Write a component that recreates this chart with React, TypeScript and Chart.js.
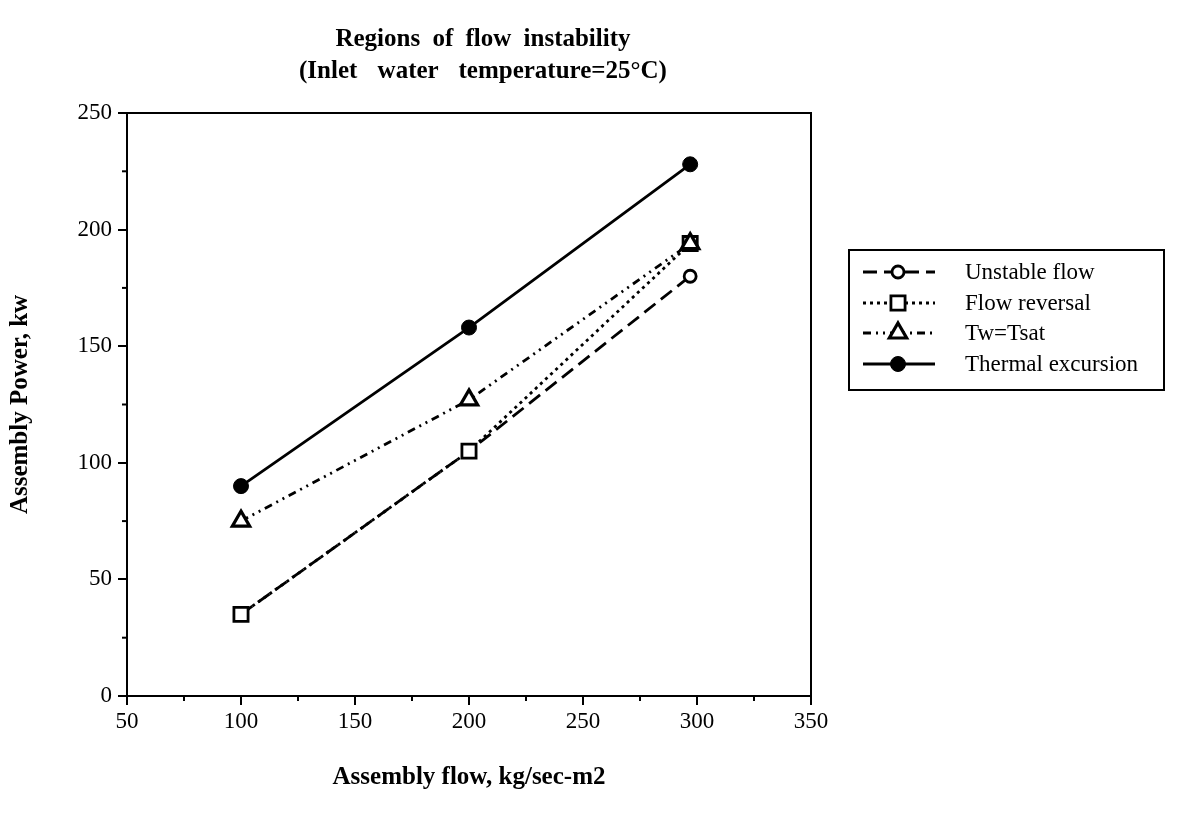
import React, { useEffect, useRef } from 'react';
import { Chart, registerables } from 'chart.js';

Chart.register(...registerables);

// ---- data ----
const flowX = [100, 200, 297];
const unstableFlow = [35, 105, 180];
const flowReversal = [35, 105, 194];
const twTsat = [75, 127, 194];
const thermalExcursion = [90, 158, 228];

const xTicks = [50, 100, 150, 200, 250, 300, 350];
const yTicks = [0, 50, 100, 150, 200, 250];

const seriesNames = ['Unstable flow', 'Flow reversal', 'Tw=Tsat', 'Thermal excursion'];
const titleLines = ['Regions of flow instability', '(Inlet water temperature=25°C)'];
const xTitle = 'Assembly flow, kg/sec-m2';
const yTitle = 'Assembly Power, kw';

const SERIF = '"Liberation Serif", "DejaVu Serif", serif';

function toPoints(ys: number[]) {
  return flowX.map((x, i) => ({ x, y: ys[i] }));
}

function drawMarker(ctx: CanvasRenderingContext2D, style: string, x: number, y: number, r: number, fill: string) {
  ctx.beginPath();
  if (style === 'rect') {
    const s = r * Math.SQRT1_2;
    ctx.rect(x - s, y - s, 2 * s, 2 * s);
  } else if (style === 'triangle') {
    ctx.moveTo(x, y - r);
    ctx.lineTo(x + r * Math.sin(Math.PI / 3), y + r * 0.5);
    ctx.lineTo(x - r * Math.sin(Math.PI / 3), y + r * 0.5);
    ctx.closePath();
  } else {
    ctx.arc(x, y, r, 0, Math.PI * 2);
  }
  ctx.fillStyle = fill;
  ctx.fill();
  ctx.stroke();
}

const framePlugin = {
  id: 'frameAndMinor',
  afterDraw(chart: any) {
    const { ctx, chartArea: a, scales } = chart;
    ctx.save();
    ctx.strokeStyle = '#000';
    ctx.lineWidth = 2;
    ctx.setLineDash([]);
    ctx.strokeRect(a.left, a.top, a.right - a.left, a.bottom - a.top);
    // minor ticks
    for (let i = 0; i < xTicks.length - 1; i++) {
      const px = scales.x.getPixelForValue((xTicks[i] + xTicks[i + 1]) / 2);
      ctx.beginPath();
      ctx.moveTo(px, a.bottom);
      ctx.lineTo(px, a.bottom + 5);
      ctx.stroke();
    }
    for (let i = 0; i < yTicks.length - 1; i++) {
      const py = scales.y.getPixelForValue((yTicks[i] + yTicks[i + 1]) / 2);
      ctx.beginPath();
      ctx.moveTo(a.left, py);
      ctx.lineTo(a.left - 5, py);
      ctx.stroke();
    }
    ctx.restore();
  },
};

const legendPlugin = {
  id: 'boxLegend',
  afterDraw(chart: any) {
    const { ctx } = chart;
    const box = { x: 849, y: 250, w: 315, h: 140 };
    ctx.save();
    ctx.strokeStyle = '#000';
    ctx.lineWidth = 2;
    ctx.setLineDash([]);
    ctx.strokeRect(box.x, box.y, box.w, box.h);
    ctx.font = '23px ' + SERIF;
    ctx.textBaseline = 'middle';
    ctx.textAlign = 'left';
    const rowY = [272, 303, 333, 364];
    chart.data.datasets.forEach((ds: any, i: number) => {
      const y = rowY[i];
      ctx.strokeStyle = ds.borderColor;
      ctx.lineWidth = ds.borderWidth;
      ctx.setLineDash(ds.borderDash || []);
      ctx.beginPath();
      ctx.moveTo(863, y);
      ctx.lineTo(935, y);
      ctx.stroke();
      ctx.setLineDash([]);
      ctx.lineWidth = ds.pointBorderWidth;
      drawMarker(ctx, ds.pointStyle, 898, y, ds.pointRadius, ds.pointBackgroundColor);
      ctx.fillStyle = '#000';
      ctx.fillText(ds.label, 965, y + 1);
    });
    ctx.restore();
  },
};

export default function App() {
  const canvasRef = useRef<HTMLCanvasElement | null>(null);

  useEffect(() => {
    document.body.style.margin = '0';
    const canvas = canvasRef.current;
    if (!canvas) return;
    const chart = new Chart(canvas, {
      type: 'line',
      data: {
        datasets: [
          {
            label: seriesNames[0],
            data: toPoints(unstableFlow),
            borderColor: '#000',
            borderWidth: 2.8,
            borderDash: [14, 7],
            pointStyle: 'circle',
            pointRadius: 6,
            pointBorderWidth: 2.8,
            pointBorderColor: '#000',
            pointBackgroundColor: '#fff',
            order: 4,
          },
          {
            label: seriesNames[1],
            data: toPoints(flowReversal),
            borderColor: '#000',
            borderWidth: 2.8,
            borderDash: [3, 4],
            pointStyle: 'rect',
            pointRadius: 10,
            pointBorderWidth: 2.8,
            pointBorderColor: '#000',
            pointBackgroundColor: '#fff',
            order: 3,
          },
          {
            label: seriesNames[2],
            data: toPoints(twTsat),
            borderColor: '#000',
            borderWidth: 2.8,
            borderDash: [8, 5, 2, 5, 2, 5],
            pointStyle: 'triangle',
            pointRadius: 10,
            pointBorderWidth: 3.2,
            pointBorderColor: '#000',
            pointBackgroundColor: '#fff',
            order: 2,
          },
          {
            label: seriesNames[3],
            data: toPoints(thermalExcursion),
            borderColor: '#000',
            borderWidth: 2.8,
            borderDash: [],
            pointStyle: 'circle',
            pointRadius: 7.5,
            pointBorderWidth: 1,
            pointBorderColor: '#000',
            pointBackgroundColor: '#000',
            order: 1,
          },
        ],
      },
      options: {
        responsive: false,
        animation: false,
        events: [],
        layout: { padding: { top: 113, right: 368, bottom: 0, left: 0 } },
        plugins: {
          legend: { display: false },
          title: { display: false },
          tooltip: { enabled: false },
        },
        elements: { line: { tension: 0 } },
        scales: {
          x: {
            type: 'linear',
            min: 50,
            max: 350,
            afterFit: (s: any) => { s.height = 122; },
            ticks: {
              stepSize: 50,
              color: '#000',
              padding: 3,
              font: { family: SERIF, size: 23 },
            },
            grid: { drawOnChartArea: false, drawTicks: true, tickLength: 9, color: '#000', lineWidth: 2 },
            border: { display: true, color: '#000', width: 2 },
            title: {
              display: true,
              text: xTitle,
              color: '#000',
              font: { family: SERIF, size: 25, weight: 'bold' },
              padding: { top: 0, bottom: 25 },
            },
          },
          y: {
            type: 'linear',
            min: 0,
            max: 250,
            afterFit: (s: any) => { s.width = 127; },
            ticks: {
              stepSize: 50,
              color: '#000',
              padding: 6,
              font: { family: SERIF, size: 23 },
            },
            grid: { drawOnChartArea: false, drawTicks: true, tickLength: 9, color: '#000', lineWidth: 2 },
            border: { display: true, color: '#000', width: 2 },
            title: {
              display: true,
              text: yTitle,
              color: '#000',
              font: { family: SERIF, size: 25, weight: 'bold' },
              padding: { top: 6, bottom: 0 },
            },
          },
        },
      },
      plugins: [framePlugin, legendPlugin],
    } as any);
    return () => chart.destroy();
  }, []);

  const wordSpacing = [6, 14];

  return (
    <div style={{ position: 'relative', width: 1179, height: 818, background: '#fff' }}>
      <div
        style={{
          position: 'absolute',
          left: 0,
          top: 22,
          width: 966,
          textAlign: 'center',
          fontFamily: SERIF,
          fontWeight: 'bold',
          fontSize: 25,
          lineHeight: '32px',
          color: '#000',
        }}
      >
        {titleLines.map((t, i) => (
          <div key={i} style={{ wordSpacing: wordSpacing[i] }}>{t}</div>
        ))}
      </div>
      <canvas ref={canvasRef} width={1179} height={818} style={{ display: 'block' }} />
    </div>
  );
}
